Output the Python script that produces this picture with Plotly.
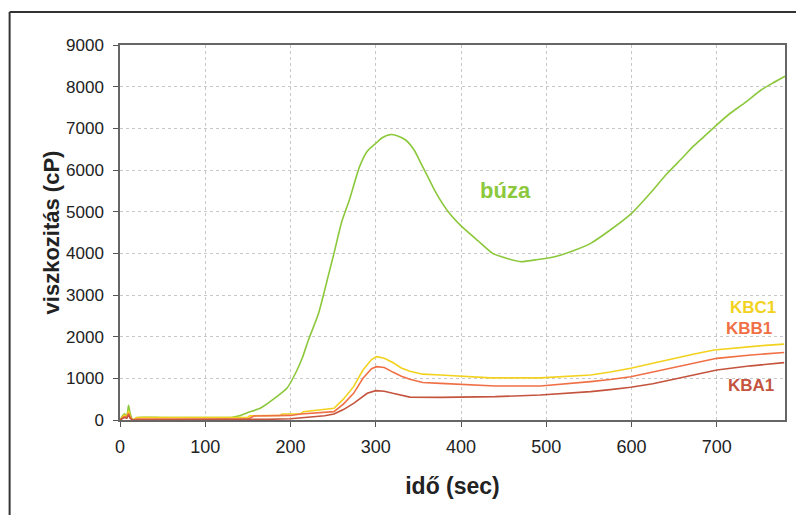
import plotly.graph_objects as go

# ---- data ----
t_buza = [0, 5, 8, 10, 12, 15, 20, 50, 100, 130, 140, 150, 165, 180, 196, 206, 214, 221, 233, 245, 251, 260, 269,
          281, 290, 300, 308, 317, 325, 335, 345, 353, 362, 371, 385, 401, 420, 437, 455, 470, 490, 510, 530,
          552, 575, 600, 620, 642, 660, 672, 685, 702, 715, 732, 752, 765, 780]
v_buza = [0, 150, 100, 350, 150, 0, 60, 60, 60, 60, 100, 180, 288, 500, 768, 1128, 1500, 1920, 2568, 3520, 4000,
          4750, 5280, 6080, 6450, 6640, 6780, 6850, 6820, 6720, 6480, 6160, 5800, 5440, 5000, 4640, 4300, 4000,
          3870, 3800, 3850, 3920, 4050, 4240, 4560, 4960, 5400, 5920, 6300, 6560, 6800, 7120, 7350, 7600, 7920,
          8080, 8250]

t_kbc1 = [0, 5, 8, 10, 12, 15, 20, 100, 150, 152, 188, 190, 212, 215, 235, 251, 262, 274, 285, 295, 301, 310,
          320, 330, 340, 355, 376, 400, 435, 493, 520, 552, 575, 599, 625, 650, 675, 697, 720, 750, 779]
v_kbc1 = [0, 120, 80, 220, 80, 0, 60, 60, 64, 100, 110, 144, 150, 200, 240, 280, 500, 800, 1200, 1450, 1520,
          1480, 1380, 1250, 1170, 1100, 1080, 1050, 1010, 1010, 1040, 1080, 1150, 1240, 1360, 1480, 1590, 1680,
          1730, 1780, 1820]

t_kbb1 = [0, 5, 8, 10, 12, 15, 20, 100, 150, 157, 200, 212, 235, 251, 262, 274, 285, 295, 301, 310, 320, 330,
          340, 355, 376, 400, 440, 493, 520, 552, 575, 599, 625, 650, 675, 700, 740, 779]
v_kbb1 = [0, 80, 60, 160, 60, 0, 20, 20, 20, 96, 110, 144, 170, 200, 380, 640, 1000, 1230, 1280, 1260, 1150,
          1050, 980, 900, 880, 850, 816, 816, 860, 920, 970, 1040, 1150, 1264, 1380, 1480, 1560, 1620]

t_kba1 = [0, 5, 8, 10, 12, 15, 20, 160, 173, 200, 220, 240, 251, 262, 274, 290, 300, 310, 320, 330, 340, 376,
          440, 493, 520, 552, 575, 599, 625, 650, 675, 700, 740, 779]
v_kba1 = [0, 60, 40, 120, 40, 0, 0, 0, 16, 30, 64, 100, 144, 250, 400, 640, 704, 690, 640, 590, 550, 544, 560,
          600, 630, 680, 730, 784, 870, 976, 1090, 1200, 1300, 1376]

x_ticks = [0, 100, 200, 300, 400, 500, 600, 700]
y_ticks = [0, 1000, 2000, 3000, 4000, 5000, 6000, 7000, 8000, 9000]

series_names = ["búza", "KBC1", "KBB1", "KBA1"]
series_colors = ["#8cc83c", "#f2d21e", "#f07046", "#c4543e"]
label_x = [452, 742, 738, 740]
label_y = [5520, 2712, 2208, 840]
label_size = [22, 17, 17, 17]

fig = go.Figure()
for name, tx, vy, col in zip(series_names,
                             [t_buza, t_kbc1, t_kbb1, t_kba1],
                             [v_buza, v_kbc1, v_kbb1, v_kba1],
                             series_colors):
    shape = "spline" if name == "búza" else "linear"
    fig.add_trace(go.Scatter(x=tx, y=vy, mode="lines", name=name,
                             line=dict(color=col, width=1.6, shape=shape, smoothing=0.6),
                             showlegend=False))

for name, lx, ly, col, fs in zip(series_names, label_x, label_y, series_colors, label_size):
    fig.add_annotation(x=lx, y=ly, text="<b>" + name + "</b>", showarrow=False,
                       font=dict(family="Liberation Sans, Arial", size=fs, color=col))

# outer scanned frame (top and left edges)
fig.add_shape(type="line", xref="paper", yref="paper", x0=-0.166, x1=1.1, y0=1.088, y1=1.088,
              line=dict(color="#333333", width=2))
fig.add_shape(type="line", xref="paper", yref="paper", x0=-0.166, x1=-0.166, y0=1.088, y1=-0.4,
              line=dict(color="#333333", width=2))

fig.update_layout(
    width=804, height=515,
    margin=dict(l=112, r=27, t=37, b=103),
    paper_bgcolor="white", plot_bgcolor="white",
    font=dict(family="Liberation Sans, Arial", color="#222222"),
    xaxis=dict(range=[0, 780], tickvals=x_ticks, ticks="outside", ticklen=5, tickcolor="#555",
               showline=True, linecolor="#666", linewidth=1.5, mirror=True,
               showgrid=True, gridcolor="#c8c8c8", griddash="dot", gridwidth=1, zeroline=False,
               tickfont=dict(size=18, color="#222"), ticklabelstandoff=5,
               title=dict(text="<b>idő (sec)</b>", font=dict(size=23, color="#222"), standoff=22)),
    yaxis=dict(range=[0, 9000], tickvals=y_ticks, ticks="outside", ticklen=5, tickcolor="#555",
               showline=True, linecolor="#666", linewidth=1.5, mirror=True,
               showgrid=True, gridcolor="#c8c8c8", griddash="dot", gridwidth=1, zeroline=False,
               tickfont=dict(size=17, color="#222"), ticklabelstandoff=6,
               title=dict(text="<b>viszkozitás (cP)</b>", font=dict(size=22, color="#222"), standoff=0)),
)

fig.write_html("out.html")
